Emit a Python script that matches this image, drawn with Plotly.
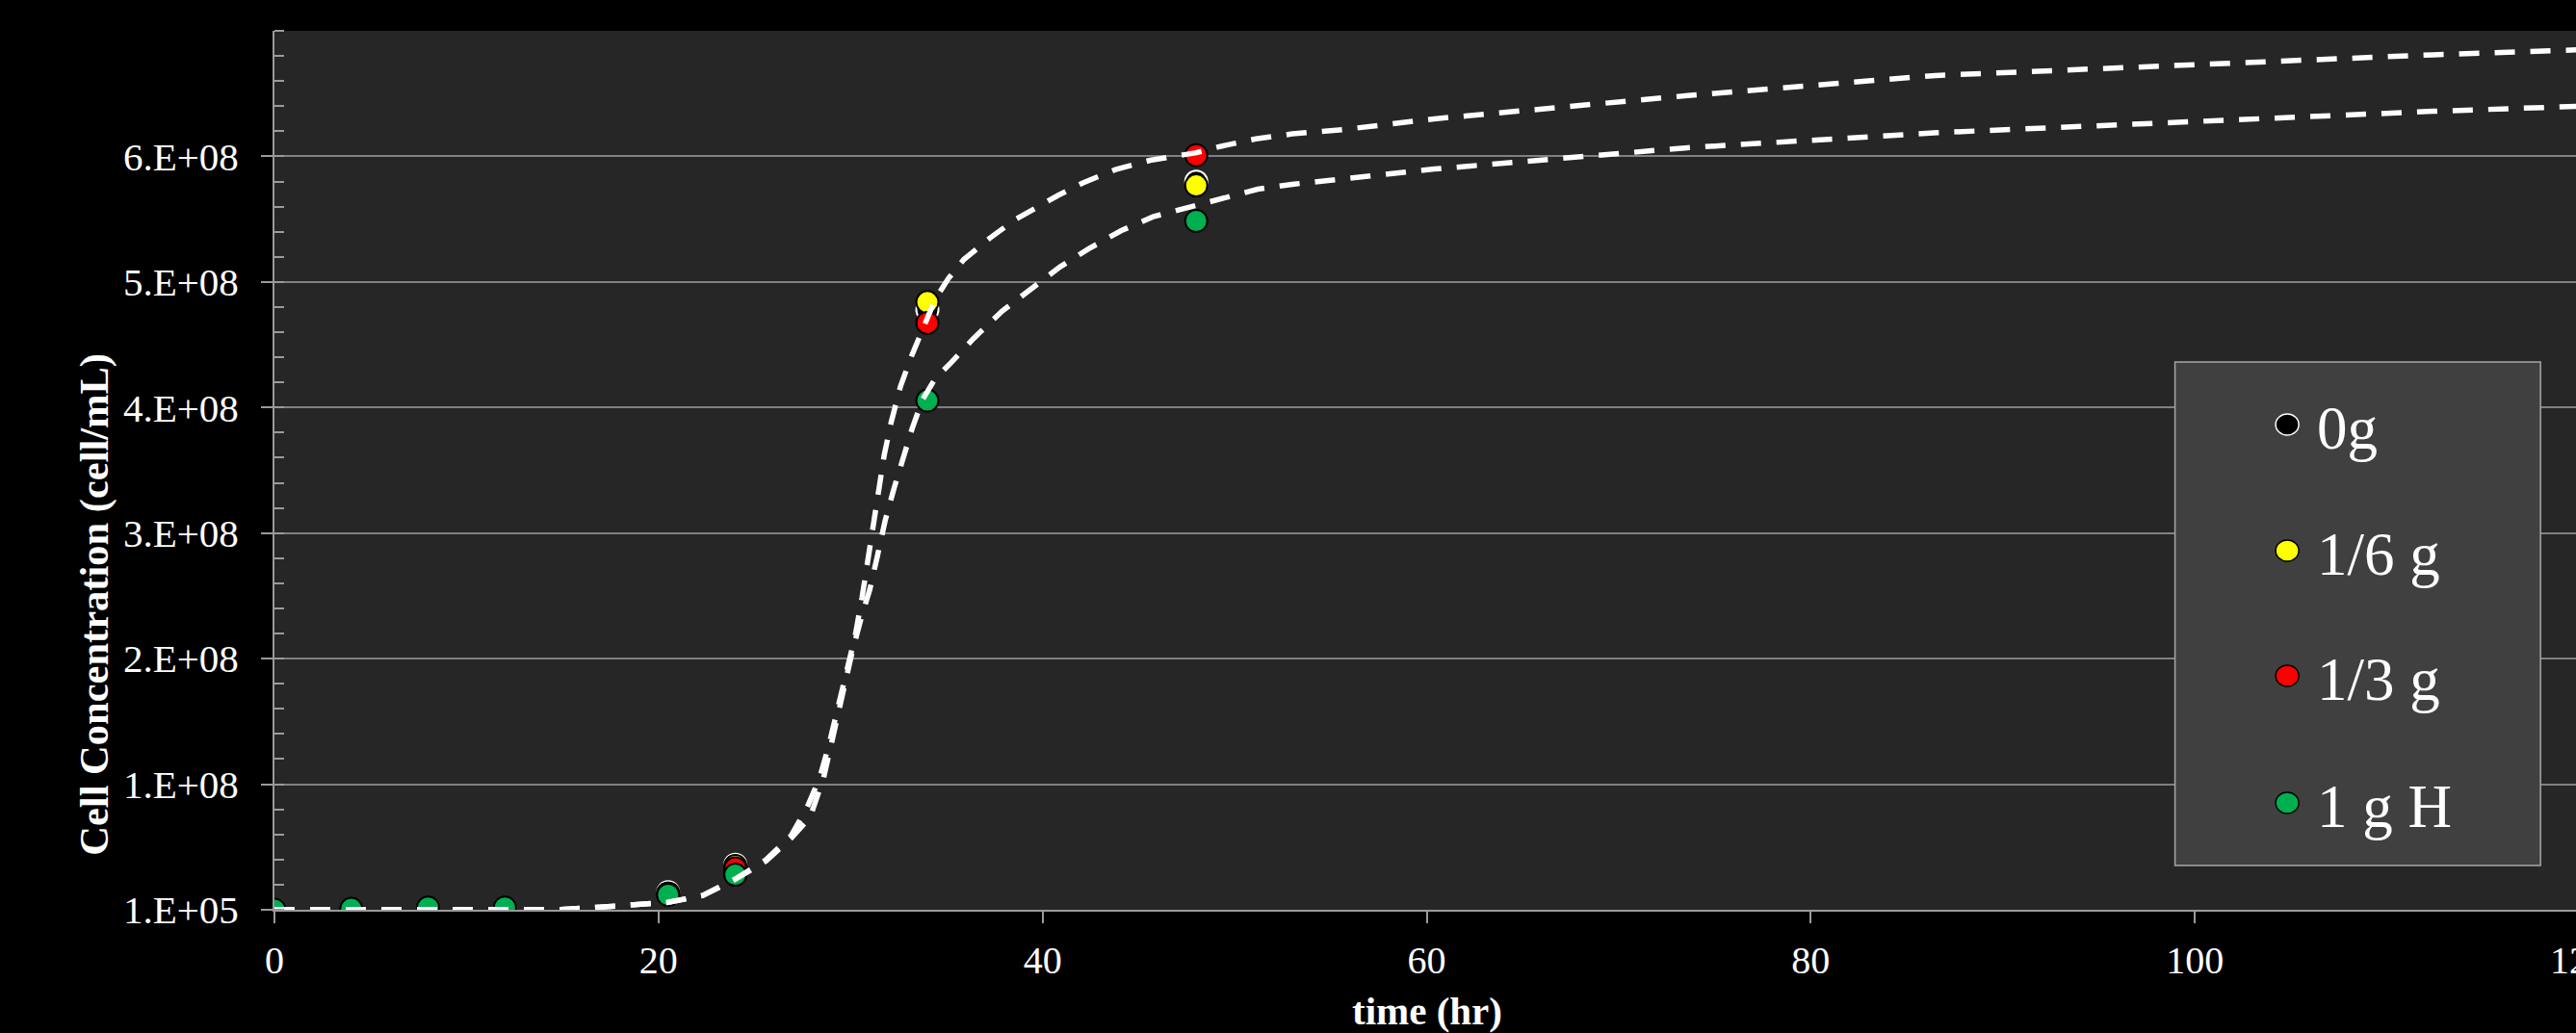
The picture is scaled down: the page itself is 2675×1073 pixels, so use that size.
import plotly.graph_objects as go

# ---------------- data ----------------
time_points = [0, 4, 8, 12, 20.5, 24, 34, 48]
series_names = ["0g", "1/6 g", "1/3 g", "1 g H"]
conc_0g = [1e5, 1e5, 1e5, 1e5, 1.4e7, 3.6e7, 4.78e8, 5.80e8]
conc_1_6g = [1e5, 1e5, 1e5, 1e5, 1.3e7, 3.5e7, 4.84e8, 5.77e8]
conc_1_3g = [1e5, 1e5, 1e5, 1e5, 1.3e7, 3.3e7, 4.675e8, 6.01e8]
conc_1gH = [1e5, 8e5, 1.8e6, 1.8e6, 1.2e7, 2.8e7, 4.056e8, 5.487e8]
series_fill = ["#000000", "#ffff00", "#ff0000", "#00b050"]
series_edge = ["#ffffff", "#000000", "#000000", "#000000"]

fit_upper_t = [0, 4, 8, 12, 14.9, 16.75, 18.65, 20.5, 22.3, 24, 25.6, 26.9, 27.75, 28.4, 28.9,
               29.4, 29.9, 30.25, 30.6, 30.9, 31.2, 31.5, 31.75, 32.1, 32.6, 33.2, 33.75, 34.4,
               35.1, 35.9, 37.25, 38.6, 40.8, 42.1, 43.8, 45.6, 48, 49.25, 51.1, 53, 55.75,
               60.4, 73.6, 86.5, 112.4, 120]
fit_upper_v = [1e5, 0, 0, 0, 3e5, 2.0e6, 3.5e6, 6.0e6, 1.15e7, 2.45e7, 4.0e7, 5.9e7, 8.2e7, 1.055e8, 1.33e8,
               1.645e8, 1.96e8, 2.19e8, 2.49e8, 2.78e8, 3.08e8, 3.37e8, 3.62e8, 3.875e8, 4.17e8, 4.42e8, 4.63e8, 4.86e8,
               5.03e8, 5.18e8, 5.35e8, 5.50e8, 5.69e8, 5.79e8, 5.896e8, 5.97e8, 6.03e8, 6.08e8, 6.14e8, 6.18e8, 6.216e8,
               6.30e8, 6.485e8, 6.645e8, 6.81e8, 6.85e8]
fit_lower_t = [0, 4, 8, 12, 14.9, 16.75, 18.65, 20.5, 22.3, 24, 25.6, 26.9, 27.9, 28.6, 29.1,
               29.6, 30.1, 30.6, 31.0, 31.4, 31.8, 32.25, 32.7, 33.2, 33.75, 34.4, 35.25, 36.4,
               37.9, 39.4, 40.9, 42.4, 44.1, 45.75, 48, 49.4, 51.2, 53.1, 54.9, 56.75, 60.4,
               73.6, 86.6, 112.4, 120]
fit_lower_v = [1e5, 0, 0, 0, 3e5, 2.0e6, 3.5e6, 6.0e6, 1.15e7, 2.45e7, 3.9e7, 5.7e7, 7.4e7, 1.055e8, 1.39e8,
               1.73e8, 2.065e8, 2.35e8, 2.55e8, 2.82e8, 3.10e8, 3.35e8, 3.58e8, 3.83e8, 4.065e8, 4.23e8, 4.36e8, 4.55e8,
               4.77e8, 4.95e8, 5.12e8, 5.265e8, 5.41e8, 5.52e8, 5.61e8, 5.667e8, 5.74e8, 5.78e8, 5.81e8, 5.84e8, 5.90e8,
               6.07e8, 6.19e8, 6.36e8, 6.40e8]

x_tick_vals = [0, 20, 40, 60, 80, 100, 120]
y_tick_vals = [1e5, 1.001e8, 2.001e8, 3.001e8, 4.001e8, 5.001e8, 6.001e8]
y_tick_text = ["1.E+05", "1.E+08", "2.E+08", "3.E+08", "4.E+08", "5.E+08", "6.E+08"]

# ---------------- layout geometry (pixels) ----------------
W, H = 2720, 1073
PL, PR, PT, PB = 285, 2687, 32, 945


def px_x(px):
    return (px - PL) / (PR - PL)


def px_y(py):
    return (PB - py) / (PB - PT)


FONT = "Liberation Serif"
GRID = "#808080"
AXIS = "#9a9a9a"

fig = go.Figure()
all_series = [conc_0g, conc_1_6g, conc_1_3g, conc_1gH]
for name, vals, fc, ec in zip(series_names, all_series, series_fill, series_edge):
    fig.add_trace(go.Scatter(
        x=time_points, y=vals, mode="markers", name=name, showlegend=False,
        marker=dict(size=23, color=fc, line=dict(color=ec, width=2)),
    ))

for tt, vv in [(fit_upper_t, fit_upper_v), (fit_lower_t, fit_lower_v)]:
    fig.add_trace(go.Scatter(
        x=tt, y=vv, mode="lines", showlegend=False, hoverinfo="skip",
        line=dict(color="#ffffff", width=5.5, dash="21px,16px"),
    ))

# ---------------- manual legend ----------------
shapes = [dict(type="rect", xref="paper", yref="paper",
               x0=px_x(2266), x1=px_x(2647), y0=px_y(899), y1=px_y(376),
               fillcolor="#404040", line=dict(color="#a6a6a6", width=1.5), layer="above")]
annotations = []
legend_y = [441, 572, 702, 834]
for name, fc, ec, ly in zip(series_names, series_fill, series_edge, legend_y):
    shapes.append(dict(type="circle", xref="paper", yref="paper",
                       xsizemode="pixel", ysizemode="pixel",
                       xanchor=px_x(2383), yanchor=px_y(ly),
                       x0=-12, x1=12, y0=-11, y1=11,
                       fillcolor=fc, line=dict(color=ec, width=1.5), layer="above"))
    annotations.append(dict(xref="paper", yref="paper", x=px_x(2412), y=px_y(ly + 4),
                            text=name, showarrow=False, xanchor="left", yanchor="middle",
                            font=dict(family=FONT, size=63, color="#ffffff")))

# axis titles
annotations.append(dict(xref="paper", yref="paper", x=px_x(1486), y=px_y(1050),
                        text="time (hr)", showarrow=False, xanchor="center", yanchor="middle",
                        font=dict(family=FONT, size=41, color="#ffffff", weight="bold")))
annotations.append(dict(xref="paper", yref="paper", x=px_x(97), y=px_y(628),
                        text="Cell Concentration (cell/mL)", showarrow=False, textangle=-90,
                        xanchor="center", yanchor="middle",
                        font=dict(family=FONT, size=42.5, color="#ffffff", weight="bold")))

fig.update_layout(
    width=W, height=H,
    margin=dict(l=PL, r=W - PR, t=PT, b=H - PB, pad=0),
    paper_bgcolor="#000000", plot_bgcolor="#262626",
    font=dict(family=FONT, size=41, color="#ffffff"),
    shapes=shapes, annotations=annotations,
    showlegend=False,
)
fig.update_xaxes(
    range=[0, 120], tickmode="array", tickvals=x_tick_vals,
    showgrid=False, zeroline=False, showline=True, linecolor=AXIS, linewidth=2,
    ticks="outside", ticklen=12, tickwidth=1.5, tickcolor=AXIS,
    tickfont=dict(family=FONT, size=40, color="#ffffff"), ticklabelstandoff=4,
)
fig.update_yaxes(
    range=[1e5, 7.001e8], tickmode="array", tickvals=y_tick_vals, ticktext=y_tick_text,
    showgrid=True, gridcolor=GRID, gridwidth=1.5, zeroline=False,
    showline=True, linecolor=AXIS, linewidth=2,
    ticks="outside", ticklen=12, tickwidth=1.5, tickcolor=AXIS,
    tickfont=dict(family=FONT, size=41, color="#ffffff"), ticklabelstandoff=15,
    minor=dict(ticks="inside", ticklen=10, tickwidth=1.5, tickcolor=AXIS,
               tick0=1e5, dtick=2e7, showgrid=False),
)

fig.write_html(
    "out.html",
    config={"displayModeBar": False},
    post_script="document.body.style.margin='0';document.body.style.overflow='hidden';"
                "document.documentElement.style.overflow='hidden';",
)
